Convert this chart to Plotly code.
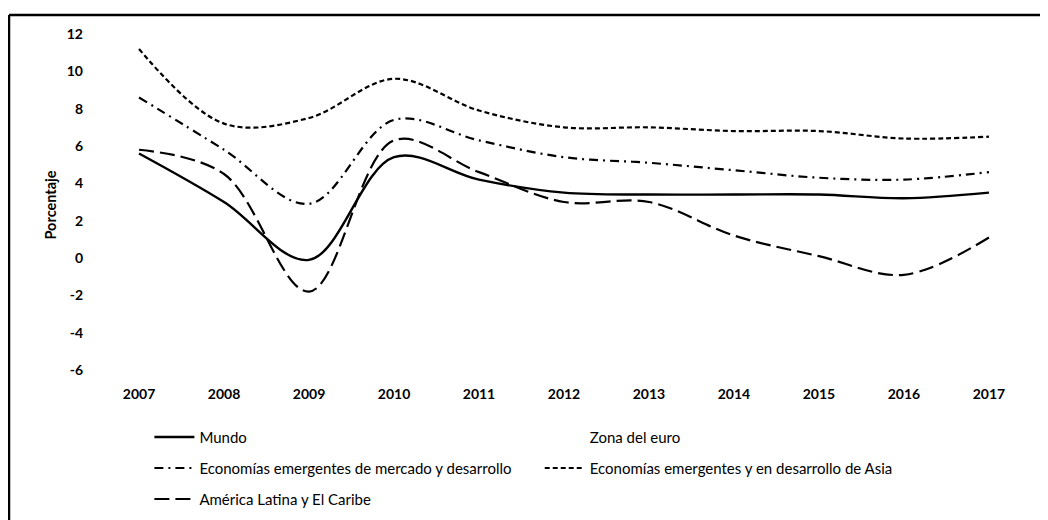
import plotly.graph_objects as go

years = [2007, 2008, 2009, 2010, 2011, 2012, 2013, 2014, 2015, 2016, 2017]
mundo = [5.6, 3.0, -0.1, 5.4, 4.2, 3.5, 3.4, 3.4, 3.4, 3.2, 3.5]
zona_euro = [None] * 11
emergentes = [8.6, 5.8, 2.9, 7.4, 6.3, 5.4, 5.1, 4.7, 4.3, 4.2, 4.6]
asia = [11.2, 7.2, 7.5, 9.6, 7.9, 7.0, 7.0, 6.8, 6.8, 6.4, 6.5]
latam = [5.8, 4.5, -1.8, 6.3, 4.6, 3.0, 3.0, 1.2, 0.1, -0.9, 1.1]
y_ticks = [12, 10, 8, 6, 4, 2, 0, -2, -4, -6]

FONT = "Lato"
fig = go.Figure()

def add(name, y, dash, legend, color="black", width=2.2):
    fig.add_trace(go.Scatter(
        x=years, y=y, name=name, mode="lines",
        line=dict(color=color, width=width, dash=dash, shape="spline", smoothing=1.0),
        legend=legend, legendgroup=name,
    ))

add("Mundo", mundo, "solid", "legend", width=2.4)
add("Zona del euro", zona_euro, "solid", "legend2", color="rgba(0,0,0,0)")
add("Economías emergentes de mercado y desarrollo", emergentes, "9px,5px,2px,5px", "legend")
add("Economías emergentes y en desarrollo de Asia", asia, "5px,3px", "legend2")
add("América Latina y El Caribe", latam, "15px,6px", "legend")

legend_common = dict(
    orientation="v", yref="paper", xref="paper", yanchor="top", xanchor="left",
    font=dict(family=FONT, size=15, color="black"),
    tracegroupgap=8.5, bgcolor="rgba(0,0,0,0)", traceorder="grouped",
    itemwidth=40,
)
frame = dict(color="black", width=2.5)
fig.update_layout(
    width=1048, height=520,
    margin=dict(l=92, r=48, t=22, b=148, autoexpand=False),
    paper_bgcolor="white", plot_bgcolor="white",
    font=dict(family=FONT, color="black"),
    legend=dict(x=0.0544, y=-0.1164, **legend_common),
    legend2=dict(x=0.4843, y=-0.1164, **legend_common),
    showlegend=True,
    xaxis=dict(
        range=[2006.541, 2017.224], tickvals=years, ticktext=[str(v) for v in years],
        showgrid=False, zeroline=False, showline=False, ticks="",
        tickfont=dict(family=FONT, size=14, color="black", weight="bold"),
        ticklabelstandoff=4,
    ),
    yaxis=dict(
        range=[-6.536, 12.214], tickvals=y_ticks, ticktext=[str(v) for v in y_ticks],
        showgrid=False, zeroline=False, showline=False, ticks="",
        tickfont=dict(family=FONT, size=14, color="black", weight="bold"),
        ticklabelstandoff=16,
        title=dict(text="Porcentaje", font=dict(family=FONT, size=14.5, color="black", weight="bold"), standoff=6),
    ),
    shapes=[
        dict(type="line", xref="paper", yref="paper",
             x0=-91/908, x1=1.06, y0=1 + 15/350, y1=1 + 15/350, line=frame),
        dict(type="line", xref="paper", yref="paper",
             x0=-91/908, x1=-91/908, y0=-0.45, y1=1 + 15/350, line=frame),
    ],
)

fig.write_html("out.html")
